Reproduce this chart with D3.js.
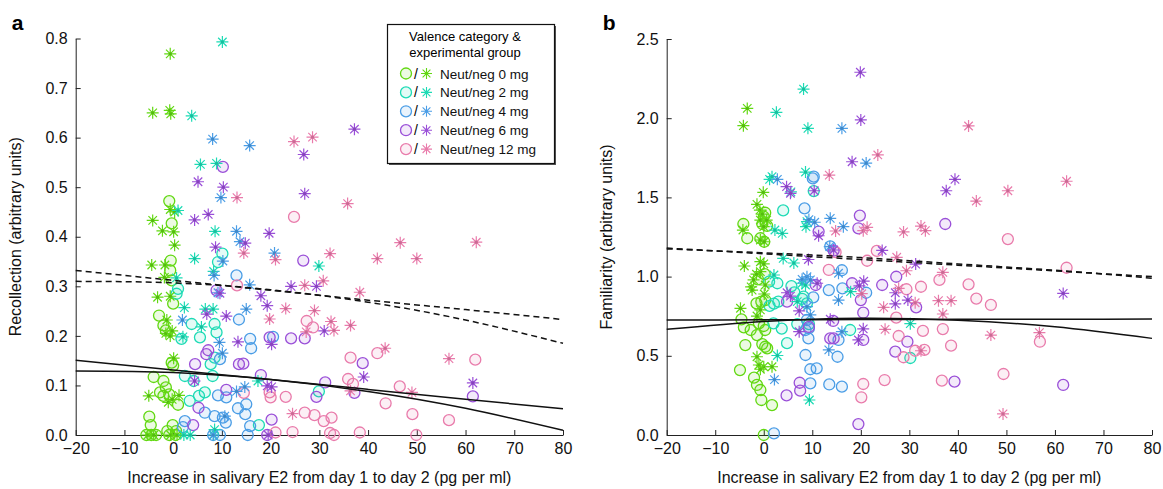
<!DOCTYPE html>
<html>
<head>
<meta charset="utf-8">
<script src="https://cdn.jsdelivr.net/npm/d3@7"></script>
<style>
  body { margin: 0; background: #fff; }
  text { font-family: "Liberation Sans", Arial, sans-serif; }
</style>
</head>
<body>
<div id="chart"></div>
<script>
// groups and colours
var groups = ["Neut/neg 0 mg", "Neut/neg 2 mg", "Neut/neg 4 mg", "Neut/neg 6 mg", "Neut/neg 12 mg"];
var colors = ["#62d812", "#1ddbb5", "#4a9de6", "#9a4fd8", "#e97bab"];

// panel a: recollection, circles (c) and stars (s) per group, [x, y]
var a0c = [[-0.8,0.472],[-0.3,0.427],[-0.5,0.352],[-0.6,0.332],[-0.3,0.312],[0,0.265],[-2.9,0.241],[-2.0,0.221],[-1.5,0.211],[-0.3,0.146],[0,0.140],[-4,0.117],[-2,0.109],[-1.5,0.096],[-2.7,0.086],[-2.0,0.079],[-0.8,0.082],[1,0.061],[-4.9,0.037],[-4.6,0.020],[-0.1,0.020],[-1.2,0.008],[0.6,0.008],[-5.5,0],[-4.5,0],[-3.5,0],[-0.8,0],[0.5,0]];
var a0s = [[-0.6,0.769],[-4.2,0.650],[-0.7,0.655],[-0.5,0.648],[-4.2,0.433],[-0.6,0.455],[0.3,0.45],[-2.2,0.412],[0.1,0.41],[0.3,0.383],[-4.4,0.343],[-1.7,0.343],[-1.8,0.318],[-3.2,0.278],[-0.6,0.280],[-1.3,0.232],[-1.5,0.205],[-0.6,0.200],[-0.2,0.210],[0.1,0.155],[-5,0.079],[1.2,0.080],[-1,0.066],[-0.2,0.072],[-5.2,0],[-4.0,0],[-0.5,0],[0.8,0]];
var a2c = [[1,0.295],[0.7,0.285],[10.1,0.366],[9.2,0.349],[3.8,0.224],[5.5,0.197],[8.5,0.224],[8.9,0.207],[1.7,0.194],[7.7,0.143],[8.5,0.156],[2.4,0.119],[4.2,0.109],[8.1,0.119],[6.5,0.086],[5.3,0.079],[3.4,0.069],[29.9,0.088],[17.6,0.02]];
var a2s = [[10.1,0.793],[3.8,0.644],[5.6,0.546],[8.9,0.548],[1,0.453],[8.6,0.411],[4.4,0.356],[8.3,0.33],[0.7,0.317],[2.3,0.257],[6.6,0.254],[8.2,0.254],[5.8,0.218],[2,0.198],[29.9,0.341],[17.4,0.109],[8.5,0.011],[2.2,0],[3.5,0],[8.3,0]];
var a4c = [[13,0.322],[13.5,0.233],[15.8,0.194],[16,0.175],[9.6,0.153],[9.2,0.08],[10.9,0.076],[15,0.062],[13.3,0.054],[6.5,0.045],[8.5,0.038],[10.2,0.035],[14.8,0.042],[2.4,0.028],[2,0.016],[10.8,0.025],[15.8,0.018],[20.5,0.198],[8.2,0],[9.6,0],[15.3,0]];
var a4s = [[8.1,0.597],[15.7,0.584],[9.8,0.479],[13,0.411],[13.7,0.39],[10.2,0.351],[8.4,0.322],[9.2,0.287],[15.7,0.303],[15,0.254],[1.9,0.232],[9.5,0.187],[10.1,0.165],[14.7,0.097],[13,0.088],[10.6,0.038],[20.8,0.367],[8.2,0]];
var a6c = [[10.2,0.541],[8.9,0.292],[7.2,0.171],[6.8,0.163],[4.5,0.143],[13.5,0.143],[14.4,0.144],[10.9,0.091],[5.2,0.055],[4.1,0.02],[26.7,0.352],[19.8,0.197],[24.2,0.195],[27,0.195],[18,0.121],[20.2,0.031],[31.2,0.106],[29.4,0.077],[37.2,0.085],[38.9,0.145],[61.5,0.078],[19.3,0]];
var a6s = [[5.1,0.511],[10.3,0.5],[7.2,0.445],[4.4,0.434],[8.7,0.379],[14.8,0.387],[6.9,0.244],[10.9,0.24],[13.3,0.188],[4.4,0.109],[9.6,0.286],[37.2,0.617],[26.8,0.566],[27,0.487],[19.7,0.407],[24.2,0.3],[29.4,0.3],[18,0.281],[19.3,0.261],[20.2,0.183],[31,0.21],[39.1,0.117],[61.5,0.105],[19.3,0.099],[20.2,0.097],[19.5,0]];
var a12c = [[13.1,0.302],[14.5,0.085],[24.8,0.44],[27.4,0.23],[28.7,0.217],[36.4,0.156],[41.9,0.165],[62,0.152],[35.9,0.113],[36.9,0.103],[46.5,0.098],[43.6,0.064],[49.1,0.042],[56.6,0.03],[49.9,0],[19.8,0.086],[20,0.076],[23.1,0.077],[27,0.045],[29,0.04],[30.9,0.028],[32.5,0.035],[24.5,0.006],[21,0.005],[32.2,0.004],[33,0],[38.3,0.005]];
var a12s = [[13.1,0.479],[14.5,0.367],[24.8,0.592],[28.6,0.601],[35.8,0.467],[46.6,0.388],[62.2,0.389],[41.9,0.356],[50,0.356],[32.2,0.366],[21,0.354],[30.8,0.311],[27,0.302],[38.3,0.288],[23.1,0.255],[19.8,0.234],[29,0.251],[32.4,0.229],[33,0.211],[36.4,0.221],[27.3,0.208],[43.5,0.175],[56.6,0.154],[49,0.086],[36.4,0.089],[24.5,0.043]];

// panel b: familiarity
var b0c = [[-4.2,1.332],[-3.4,1.242],[0.3,1.403],[0,1.378],[-0.3,1.332],[0.7,1.32],[-0.7,1.242],[0.1,1.22],[0.2,1.016],[-1.2,0.983],[-1.5,0.831],[-0.5,0.842],[0.3,0.852],[-4.6,0.73],[-4.1,0.68],[-2.7,0.663],[-1,0.705],[0,0.688],[0.3,0.663],[-1.4,0.631],[-3.8,0.568],[-0.3,0.574],[0.3,0.557],[0.7,0.547],[-4.9,0.41],[-2,0.362],[-1.4,0.316],[-0.7,0.284],[-0.5,0.221],[1.7,0.189],[0,0]];
var b0s = [[-3.4,2.062],[-4.2,1.953],[-0.1,1.532],[-1.4,1.456],[-0.8,1.42],[-0.3,1.395],[-0.7,1.357],[0.6,1.357],[0,1.315],[-4.3,1.294],[-0.7,1.231],[0.1,1.22],[-0.7,1.094],[0,1.08],[-4,1.067],[-0.7,1.031],[-1.5,1.015],[-2.1,0.979],[-2.6,0.935],[0.3,0.947],[-2.4,0.915],[0.1,0.89],[-4.8,0.8],[-0.7,0.79],[-1.4,0.751],[-1.4,0.494],[-1,0.442],[0,0.431],[1.7,0.431],[-0.7,0.415]];
var b2c = [[4,1.418],[10.3,1.54],[1.1,0.968],[2.8,0.958],[5.7,0.94],[6.3,0.9],[1.2,0.815],[2.1,0.829],[3,0.842],[7.9,0.86],[8.9,0.831],[8.2,0.873],[2,0.705],[3.7,0.672],[6.9,0.7],[9.3,0.7],[4.8,0.58],[17.8,0.663],[30.2,0.486]];
var b2s = [[8.2,2.184],[2.6,2.037],[9.1,1.936],[8.6,1.66],[1.2,1.614],[1.7,1.631],[5.6,1.535],[8.9,1.347],[8.7,1.315],[2.3,1.294],[3.8,1.273],[4,1.115],[6.2,1.086],[2.1,1.01],[7.9,0.958],[8.6,0.947],[6.9,0.842],[2.8,0.502],[9.4,0.221],[17.9,0.905],[30.2,0.703]];
var b4c = [[8.4,1.431],[10.3,1.631],[10.1,1.62],[13.7,1.191],[16.1,1.04],[13.4,0.915],[16.2,0.926],[21.1,0.898],[10.2,0.869],[8.9,0.726],[9.3,0.674],[8.6,0.663],[9.2,0.61],[15.4,0.6],[15.2,0.494],[8.6,0.505],[9.6,0.415],[10.9,0.421],[9.6,0.326],[13.5,0.319],[16.1,0.305],[2.1,0.01]];
var b4s = [[16.1,1.936],[2.8,1.614],[13.7,1.368],[9.3,1.36],[10.5,1.343],[16.4,1.315],[13.6,1.189],[15.4,1.021],[7.9,0.983],[8.9,0.999],[9.6,0.979],[8.9,0.81],[15.4,0.852],[9.6,0.758],[16.1,0.652],[13.4,0.537],[2.2,0.35],[21.1,1.717]];
var b6c = [[11.3,1.284],[14.4,1.164],[10.7,0.947],[4.8,0.842],[9.3,0.682],[13.7,0.61],[14.3,0.72],[7.4,0.33],[7.5,0.28],[4.7,0.25],[19.8,1.385],[19.5,1.305],[37.4,1.332],[18.2,0.958],[24.4,0.947],[27.3,0.999],[20,0.852],[20.5,0.772],[31.4,0.806],[20.5,0.6],[14.4,0.61],[27.1,0.526],[29.6,0.589],[39.3,0.337],[61.7,0.316],[19.5,0.069]];
var b6s = [[19.9,2.29],[20,1.989],[18.2,1.725],[39.4,1.614],[37.6,1.542],[24.4,1.165],[31.3,1.079],[20.6,0.971],[19.7,0.942],[61.7,0.894],[27.1,0.898],[27.1,0.828],[29.7,0.852],[20.5,0.67],[19.5,0.6],[14.4,1.168],[4.7,1.568],[5.5,1.526],[10.4,1.542],[11.3,1.258],[9.2,1.108],[4.8,0.898],[5.5,0.877],[7.3,0.784],[7.3,0.652],[13.7,0.731],[11,0.958]];
var b12c = [[50.3,1.237],[62.4,1.056],[14.8,1.154],[23.3,1.162],[21.3,1.1],[29.4,0.92],[32.4,0.936],[36.2,0.979],[42.2,0.951],[43.8,0.861],[46.8,0.821],[27.3,0.741],[36.9,0.669],[27.8,0.625],[32.8,0.657],[38.6,0.564],[28.8,0.491],[31.2,0.532],[33.1,0.537],[56.9,0.589],[24.9,0.347],[36.7,0.343],[49.4,0.385],[20.5,0.322],[20.1,0.238],[13.4,1.042]];
var b12s = [[42.2,1.951],[23.5,1.768],[62.4,1.602],[50.3,1.542],[43.8,1.477],[14.8,1.288],[20.5,1.29],[21.3,1.311],[28.8,1.282],[32.4,1.319],[33.3,1.29],[27.4,1.122],[29.4,1.037],[36.9,1.027],[24.7,0.806],[27.8,0.926],[31.2,0.835],[36,0.848],[38.6,0.848],[36.9,0.764],[25,0.667],[46.8,0.631],[56.8,0.646],[32.4,0.532],[49.3,0.133],[13.5,1.641],[20.2,0.892]];

// fitted lines, sampled at fitX
var fitX = [-20, 0, 20, 40, 60, 80];
var aDashLin = [0.332, 0.312, 0.292, 0.272, 0.253, 0.233];
var aDashQuad = [0.31, 0.307, 0.293, 0.268, 0.232, 0.185];
var aSolidLin = [0.151, 0.131, 0.112, 0.092, 0.072, 0.053];
var aSolidQuad = [0.129, 0.126, 0.112, 0.088, 0.054, 0.0095];
var bDashLin = [1.18, 1.144, 1.108, 1.072, 1.036, 1.0];
var bDashQuad = [1.175, 1.15, 1.12, 1.08, 1.04, 0.99];
var bSolidLin = [0.726, 0.727, 0.729, 0.73, 0.731, 0.732];
var bSolidQuad = [0.667, 0.717, 0.737, 0.725, 0.683, 0.61];

var xTicks = [-20, -10, 0, 10, 20, 30, 40, 50, 60, 70, 80];
var aYTicks = [0, 0.1, 0.2, 0.3, 0.4, 0.5, 0.6, 0.7, 0.8];
var bYTicks = [0, 0.5, 1, 1.5, 2, 2.5];

var svg = d3.select("#chart").append("svg")
    .attr("width", 1163)
    .attr("height", 489);

function starPath(r) {
    var d = r * Math.SQRT1_2;
    return "M" + (-r) + ",0L" + r + ",0M0," + (-r) + "L0," + r +
        "M" + (-d) + "," + (-d) + "L" + d + "," + d +
        "M" + (-d) + "," + d + "L" + d + "," + (-d);
}

function drawPanel(opt) {
    var g = svg.append("g");
    var x = d3.scaleLinear().domain([-20, 80]).range([opt.left, opt.right]);
    var y = d3.scaleLinear().domain(opt.yDomain).range([435, opt.top]);

    // axes
    var xa = g.append("g")
        .attr("transform", "translate(0,435)")
        .call(d3.axisBottom(x).tickValues(xTicks).tickSizeInner(-5).tickSizeOuter(0).tickPadding(8));
    var ya = g.append("g")
        .attr("transform", "translate(" + opt.left + ",0)")
        .call(d3.axisLeft(y).tickValues(opt.yTicks).tickSizeInner(-5).tickSizeOuter(0).tickPadding(8));
    [xa, ya].forEach(function(a) {
        a.selectAll("text").style("font-size", "16px").attr("fill", "#111");
        a.selectAll("line, path").attr("stroke", "#222");
    });

    // markers, circles first then stars
    opt.circles.forEach(function(arr, i) {
        g.append("g").selectAll("circle")
            .data(arr)
            .enter()
            .append("circle")
            .attr("cx", function(d) { return x(d[0]); })
            .attr("cy", function(d) { return y(d[1]); })
            .attr("r", 5.5)
            .attr("fill", d3.color(colors[i]).copy({opacity: 0.12}))
            .attr("stroke", colors[i])
            .attr("stroke-width", 1.3);
    });
    opt.stars.forEach(function(arr, i) {
        var sg = g.append("g").selectAll("g")
            .data(arr)
            .enter()
            .append("g")
            .attr("transform", function(d) { return "translate(" + x(d[0]) + "," + y(d[1]) + ")"; });
        sg.append("path")
            .attr("d", starPath(6))
            .attr("stroke", colors[i])
            .attr("stroke-width", 1.2);
        sg.append("circle")
            .attr("r", 1.6)
            .attr("fill", d3.color(colors[i]).darker(0.4));
    });

    // fit lines
    var line = d3.line()
        .x(function(d, i) { return x(fitX[i]); })
        .y(function(d) { return y(d); })
        .curve(d3.curveNatural);
    opt.fits.forEach(function(f) {
        g.append("path")
            .attr("d", line(f.v))
            .attr("fill", "none")
            .attr("stroke", "#111")
            .attr("stroke-width", 1.5)
            .attr("stroke-dasharray", f.dash ? "6,4" : null);
    });

    // titles
    g.append("text")
        .attr("x", opt.left - 64)
        .attr("y", 30)
        .style("font-size", "21px")
        .style("font-weight", "bold")
        .text(opt.letter);
    g.append("text")
        .attr("x", (opt.left + opt.right) / 2)
        .attr("y", 483)
        .attr("text-anchor", "middle")
        .style("font-size", "16px")
        .attr("fill", "#111")
        .text("Increase in salivary E2 from day 1 to day 2 (pg per ml)");
    g.append("text")
        .attr("transform", "translate(" + (opt.left - 55) + "," + ((435 + opt.top) / 2) + ") rotate(-90)")
        .attr("text-anchor", "middle")
        .style("font-size", "16px")
        .attr("fill", "#111")
        .text(opt.yTitle);
}

drawPanel({
    letter: "a", left: 75.7, right: 563, top: 38.5, yDomain: [0, 0.8], yTicks: aYTicks,
    yTitle: "Recollection (arbitrary units)",
    circles: [a0c, a2c, a4c, a6c, a12c],
    stars: [a0s, a2s, a4s, a6s, a12s],
    fits: [{v: aDashLin, dash: true}, {v: aDashQuad, dash: true}, {v: aSolidLin}, {v: aSolidQuad}]
});
drawPanel({
    letter: "b", left: 666.7, right: 1152, top: 39, yDomain: [0, 2.5], yTicks: bYTicks,
    yTitle: "Familiarity (arbitrary units)",
    circles: [b0c, b2c, b4c, b6c, b12c],
    stars: [b0s, b2s, b4s, b6s, b12s],
    fits: [{v: bDashLin, dash: true}, {v: bDashQuad, dash: true}, {v: bSolidLin}, {v: bSolidQuad}]
});

// legend
var lg = svg.append("g");
lg.append("rect")
    .attr("x", 389).attr("y", 26).attr("width", 167).attr("height", 139)
    .attr("fill", "#555");
lg.append("rect")
    .attr("x", 387.5).attr("y", 24.5).attr("width", 167).attr("height", 139)
    .attr("fill", "#fff").attr("stroke", "#111").attr("stroke-width", 1.2);
lg.append("text").attr("x", 465).attr("y", 41).attr("text-anchor", "middle")
    .style("font-size", "13px").text("Valence category &");
lg.append("text").attr("x", 465).attr("y", 57).attr("text-anchor", "middle")
    .style("font-size", "13px").text("experimental group");
var items = lg.selectAll(".item")
    .data(groups)
    .enter()
    .append("g")
    .attr("class", "item")
    .attr("transform", function(d, i) { return "translate(0," + (73.5 + i * 18.9) + ")"; });
items.append("circle")
    .attr("cx", 406).attr("r", 5.5)
    .attr("fill", function(d, i) { return d3.color(colors[i]).copy({opacity: 0.12}); })
    .attr("stroke", function(d, i) { return colors[i]; })
    .attr("stroke-width", 1.3);
items.append("text")
    .attr("x", 414).attr("y", 5)
    .style("font-size", "14px")
    .text("/");
items.append("path")
    .attr("transform", "translate(426.5,0)")
    .attr("d", starPath(5.5))
    .attr("stroke", function(d, i) { return colors[i]; })
    .attr("stroke-width", 1.1);
items.append("text")
    .attr("x", 440).attr("y", 5)
    .style("font-size", "13.5px")
    .attr("fill", "#111")
    .text(function(d) { return d; });
</script>
</body>
</html>
